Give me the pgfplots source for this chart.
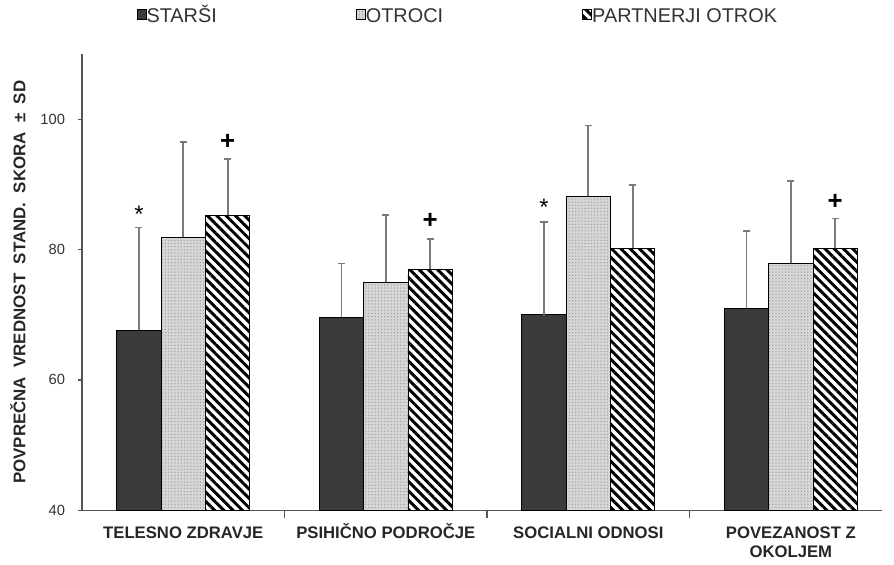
\documentclass[border=0pt]{standalone}
\usepackage{fontspec}
\setmainfont{Liberation Sans}
\usepackage{pgfplots}
\pgfplotsset{compat=1.18}
\usetikzlibrary{patterns,patterns.meta}

\definecolor{barDark}{HTML}{3A3A3A}
\definecolor{barLight}{HTML}{D6D6D6}
\definecolor{axisGray}{HTML}{555555}
\definecolor{errGray}{HTML}{7A7A7A}
\definecolor{txtGray}{HTML}{333333}

% bars are placed at their own x (group -0.219 / 0 / +0.219) so error bars follow them
\pgfplotsset{
  sqlegend/.style={legend image code/.code={
      \draw[##1, draw=black, line width=0.4pt] (0pt,-2.2pt) rectangle (4.6pt,2.8pt);}},
  bar base/.style={ybar, bar width=0.219, bar shift=0, draw=black, line width=0.4pt, sqlegend,
      error bars/y dir=plus, error bars/y explicit,
      error bars/error bar style={errGray, line width=0.9pt},
      error bars/error mark options={errGray, line width=0.9pt, mark size=1.8pt, rotate=90}},
  starsi/.style={bar base, fill=barDark},
  otroci/.style={bar base, fill=barLight,
      postaction={pattern={Dots[distance=1.6pt, radius=0.35pt]}, pattern color=gray!75}},
  partnerji/.style={bar base, fill=white,
      postaction={pattern={Lines[angle=-45, distance=3.3pt, line width=1.5pt]}, pattern color=black}},
}

\begin{document}
\begin{tikzpicture}
\begin{axis}[
    scale only axis,
    width=402.5pt, height=229.25pt,
    xmin=-0.5, xmax=3.45,
    ymin=40, ymax=110,
    axis x line*=bottom, axis y line*=left,
    axis line style={axisGray, line width=0.6pt, -},
    tick align=outside,
    ytick={40,60,80,100},
    major tick length=2pt,
    xtick={0,1,2,3},
    xticklabels={{\vphantom{Č}TELESNO ZDRAVJE}, {\vphantom{Č}PSIHIČNO PODROČJE},
        {\vphantom{Č}SOCIALNI ODNOSI}, {\vphantom{Č}POVEZANOST Z\\OKOLJEM}},
    major x tick style={draw=none},
    minor xtick={0.5,1.5,2.5},
    minor x tick style={axisGray, line width=0.6pt},
    minor tick length=4pt,
    ytick style={axisGray, line width=0.6pt},
    /pgf/number format/assume math mode=true,
    yticklabel style={font=\fontsize{7.4}{8}\selectfont, text=txtGray, xshift=-3pt},
    xticklabel style={font=\fontsize{8.4}{10}\selectfont\bfseries, text=black!85, align=center, yshift=-1pt},
    ylabel={POVPREČNA\ \ VREDNOST\ \ STAND.\ \ SKORA\ \ ±\ \ SD},
    every axis y label/.style={at={(axis description cs:-0.08,0.5)}, rotate=90, anchor=center,
        font=\fontsize{8.5}{9}\selectfont\bfseries, text=black!85},
    legend columns=3,
    legend style={draw=none, fill=none, inner sep=0pt, at={(axis description cs:0.471,1.087)}, anchor=center,
        font=\fontsize{10}{11}\selectfont, text=txtGray,
        /tikz/every even column/.append style={column sep=68pt},
        /tikz/every odd column/.append style={column sep=-2pt}},
    legend cell align=left,
    clip=false,
]

\addplot[starsi] coordinates {
    (-0.219,67.6) +- (0,15.8)
    (0.781,69.6) +- (0,8.3)
    (1.781,70.0) +- (0,14.3)
    (2.781,71.0) +- (0,11.9)
};
\addplot[otroci] coordinates {
    (0,81.9) +- (0,14.7)
    (1,75.0) +- (0,10.3)
    (2,88.2) +- (0,10.9)
    (3,77.9) +- (0,12.7)
};
\addplot[partnerji] coordinates {
    (0.219,85.3) +- (0,8.6)
    (1.219,77.0) +- (0,4.7)
    (2.219,80.2) +- (0,9.8)
    (3.219,80.2) +- (0,4.6)
};
\legend{\vphantom{Š}STARŠI, \vphantom{Š}OTROCI, \vphantom{Š}PARTNERJI OTROK}

% significance marks
\addplot[forget plot, only marks, mark=none, nodes near coords, point meta=explicit symbolic,
    every node near coord/.append style={anchor=center, font=\fontsize{12}{12}\selectfont, text=black}]
    coordinates {(-0.219,85.4)[*] (1.781,86.5)[*]};
\addplot[forget plot, only marks, mark=none, nodes near coords, point meta=explicit symbolic,
    every node near coord/.append style={anchor=center, font=\fontsize{13}{13}\selectfont\bfseries, text=black}]
    coordinates {(0.219,96.5)[+] (1.219,84.4)[+] (3.219,87.3)[+]};

\path (axis description cs:-0.1025,-0.1084) rectangle (axis description cs:1.015,1.1195);
\end{axis}
\end{tikzpicture}
\end{document}
